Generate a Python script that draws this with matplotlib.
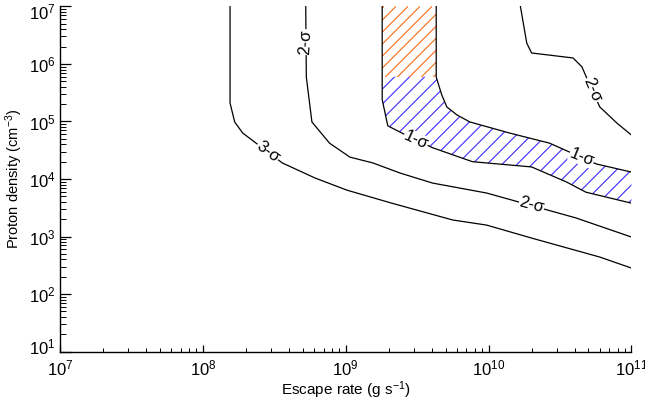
import matplotlib
matplotlib.use('Agg')
import matplotlib.pyplot as plt
import numpy as np
from matplotlib.collections import LineCollection
from matplotlib.patches import Polygon
from matplotlib.ticker import LogLocator, NullFormatter
from matplotlib.transforms import ScaledTranslation

plt.rcParams['font.family'] = ['Liberation Sans', 'DejaVu Sans']
plt.rcParams['mathtext.default'] = 'regular'

# contour lines: escape rate (g/s) vs proton density (cm^-3)
sig3_rate = [1.55e8, 1.55e8, 1.67e8, 1.9e8, 2.3e8, 3.6e8, 6.1e8, 1.02e9, 2.1e9, 5.6e9, 9.7e9, 2.0e10, 6.0e10, 1.0e11]
sig3_dens = [1e7, 2.1e5, 9.8e4, 6.3e4, 4.4e4, 1.9e4, 1.04e4, 6.4e3, 3.8e3, 1.94e3, 1.58e3, 9.4e2, 4.4e2, 2.83e2]

sig2_rate = [5.25e8, 5.3e8, 5.8e8, 7.7e8, 1.07e9, 1.55e9, 2.4e9, 4.05e9, 9.7e9, 4.1e10, 1.0e11]
sig2_dens = [1e7, 5.9e5, 9.8e4, 4.2e4, 2.4e4, 1.9e4, 1.27e4, 8.5e3, 5.7e3, 2.1e3, 9.8e2]

sig2b_rate = [1.67e10, 1.85e10, 2.0e10, 3.9e10, 4.5e10, 5.3e10, 6.0e10, 7.9e10, 1.0e11]
sig2b_dens = [1e7, 2.3e6, 1.55e6, 1.27e6, 8.9e5, 3.5e5, 1.79e5, 9.4e4, 5.8e4]

sig1lo_rate = [1.8e9, 1.8e9, 1.97e9, 2.47e9, 4.05e9, 7.7e9, 2.0e10, 3.5e10, 4.8e10, 1.0e11]
sig1lo_dens = [1e7, 2.4e5, 8.4e4, 6.3e4, 3.5e4, 2.0e4, 1.62e4, 8.9e3, 5.9e3, 3.8e3]

sig1hi_rate = [4.3e9, 4.3e9, 4.7e9, 5.1e9, 6.0e9, 7.4e9, 1.4e10, 2.67e10, 5.7e10, 1.0e11]
sig1hi_dens = [1e7, 5.9e5, 2.9e5, 1.79e5, 1.3e5, 9.8e4, 6.3e4, 4.2e4, 1.82e4, 1.32e4]

split_dens = 6e5  # orange hatch above, blue below

# contour labels: text, rate, density, rotation
labels = [
    ('3-σ', 2.85e8, 2.95e4, -37),
    ('2-σ', 5.2e8, 2.4e6, 87),
    ('2-σ', 2.0e10, 3.5e3, -15),
    ('2-σ', 5.3e10, 3.5e5, -67),
    ('1-σ', 3.1e9, 4.8e4, -25),
    ('1-σ', 4.5e10, 2.4e4, -22),
]


def hatch_band(ax, xs, ys, color, spacing_px):
    """Diagonal hatch lines (45 deg on screen) clipped to a polygon in data coords."""
    patch = Polygon(np.column_stack([xs, ys]), closed=True, transform=ax.transData,
                    facecolor='none', edgecolor='none')
    ax.add_patch(patch)
    bbox = ax.get_window_extent()
    w, h = bbox.width, bbox.height
    segs = []
    for c in np.arange(-h, w, spacing_px):
        segs.append([(c / w, 0.0), ((c + h) / w, 1.0)])
    lc = LineCollection(segs, colors=color, linewidths=0.8, transform=ax.transAxes, zorder=1)
    lc.set_clip_path(patch)
    ax.add_collection(lc)


fig = plt.figure(figsize=(6.45, 4.0), dpi=100)
ax = fig.add_axes([0.093, 0.121, 0.886, 0.863])
ax.set_xscale('log')
ax.set_yscale('log')
ax.set_xlim(1e7, 1e11)
ax.set_ylim(1e1, 1e7)

# hatched band between the 1-sigma contours
band_x = np.array(sig1lo_rate + sig1hi_rate[::-1])
band_y = np.array(sig1lo_dens + sig1hi_dens[::-1])
hatch_band(ax, band_x, np.maximum(band_y, split_dens), '#ff6a10', 12)
hatch_band(ax, band_x, np.minimum(band_y, split_dens), '#3a2cff', 15)

for xs, ys in [(sig3_rate, sig3_dens), (sig2_rate, sig2_dens), (sig2b_rate, sig2b_dens),
               (sig1lo_rate, sig1lo_dens), (sig1hi_rate, sig1hi_dens)]:
    ax.plot(xs, ys, color='black', lw=0.9, zorder=2)

for txt, x, y, rot in labels:
    ax.text(x, y, txt, fontsize=12, rotation=rot, ha='center', va='center',
            rotation_mode='anchor', zorder=3,
            bbox=dict(facecolor='white', edgecolor='none', pad=0.3))

# axes styling
for side in ['top', 'right']:
    ax.spines[side].set_visible(False)
for side in ['left', 'bottom']:
    ax.spines[side].set_linewidth(1.0)

ax.xaxis.set_major_locator(LogLocator(base=10, numticks=10))
ax.xaxis.set_minor_locator(LogLocator(base=10, subs=np.arange(2, 10), numticks=10))
ax.yaxis.set_major_locator(LogLocator(base=10, numticks=10))
ax.yaxis.set_minor_locator(LogLocator(base=10, subs=np.arange(2, 10), numticks=10))
ax.xaxis.set_minor_formatter(NullFormatter())
ax.yaxis.set_minor_formatter(NullFormatter())

ax.tick_params(axis='x', which='major', direction='in', length=5, width=0.9, labelsize=12, pad=5)
ax.tick_params(axis='x', which='minor', direction='in', length=3, width=0.7)
ax.tick_params(axis='y', which='major', direction='in', length=8, width=0.9, labelsize=12, pad=3)
ax.tick_params(axis='y', which='minor', direction='in', length=4.5, width=0.7)

# end labels of the y axis are nudged inward, as in the original
ylocs = ax.yaxis.get_majorticklocs()
for tick, loc in zip(ax.yaxis.get_major_ticks(len(ylocs)), ylocs):
    if np.isclose(loc, 1e7):
        dy = -5
    elif np.isclose(loc, 1e1):
        dy = 6
    else:
        continue
    tick.label1.set_transform(tick.label1.get_transform()
                              + ScaledTranslation(0, dy / 100, fig.dpi_scale_trans))

ax.set_xlabel('Escape rate (g s$^{-1}$)', fontsize=11, labelpad=1)
ax.set_ylabel('Proton density (cm$^{-3}$)', fontsize=10.5, labelpad=3)

fig.savefig('out.png', dpi=100)
